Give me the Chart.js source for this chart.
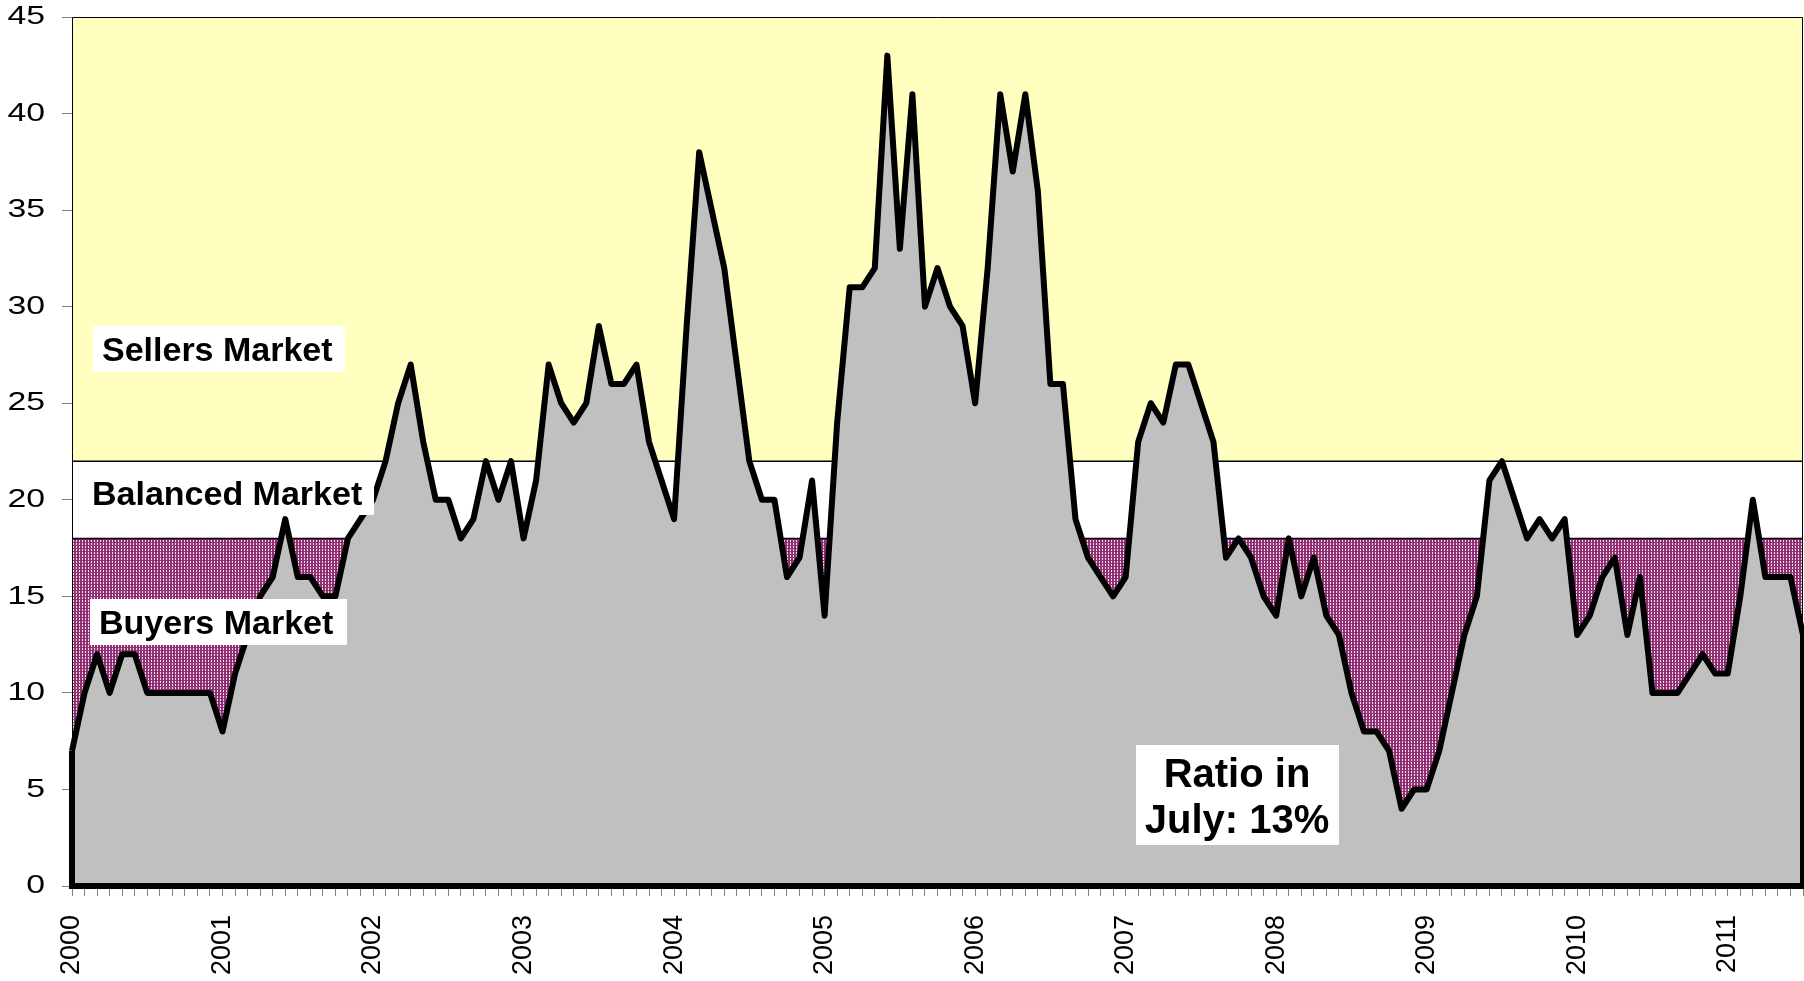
<!DOCTYPE html>
<html>
<head>
<meta charset="utf-8">
<script src="https://cdn.jsdelivr.net/npm/chart.js@4.4.0/dist/chart.umd.min.js"></script>
<style>
  body { margin: 0; background: #fff; }
  canvas { display: block; }
</style>
</head>
<body>
<canvas id="chart" width="1804" height="981"></canvas>
<script>
// Years shown on the axis (one label each January)
const years = ['2000', '2001', '2002', '2003', '2004', '2005', '2006', '2007', '2008', '2009', '2010', '2011'];
const monthNames = ['Jan', 'Feb', 'Mar', 'Apr', 'May', 'Jun', 'Jul', 'Aug', 'Sep', 'Oct', 'Nov', 'Dec'];

// Monthly ratio, Jan 2000 - Jul 2011
const ratio = [
  7, 10, 12, 10, 12, 12, 10, 10, 10, 10, 10, 10,   // 2000
  8, 11, 13, 15, 16, 19, 16, 16, 15, 15, 18, 19,   // 2001
  20, 22, 25, 27, 23, 20, 20, 18, 19, 22, 20, 22,  // 2002
  18, 21, 27, 25, 24, 25, 29, 26, 26, 27, 23, 21,  // 2003
  19, 29, 38, 35, 32, 27, 22, 20, 20, 16, 17, 21,  // 2004
  14, 24, 31, 31, 32, 43, 33, 41, 30, 32, 30, 29,  // 2005
  25, 32, 41, 37, 41, 36, 26, 26, 19, 17, 16, 15,  // 2006
  16, 23, 25, 24, 27, 27, 25, 23, 17, 18, 17, 15,  // 2007
  14, 18, 15, 17, 14, 13, 10, 8, 8, 7, 4, 5,       // 2008
  5, 7, 10, 13, 15, 21, 22, 20, 18, 19, 18, 19,    // 2009
  13, 14, 16, 17, 13, 16, 10, 10, 10, 11, 12, 11,  // 2010
  11, 15, 20, 16, 16, 16, 13                       // 2011
];

const months = ratio.map((v, i) => monthNames[i % 12] + ' ' + years[Math.floor(i / 12)]);

// Market zones (ratio thresholds)
const buyersTop = 18;
const sellersBottom = 22;
const yMax = 45;

const FONT = "'Liberation Sans', Arial, sans-serif";

// dotted purple fill like the Excel pattern
function makePattern(ctx) {
  const c = document.createElement('canvas');
  c.width = 3; c.height = 3;
  const g = c.getContext('2d');
  g.fillStyle = '#912F73';
  g.fillRect(0, 0, 3, 3);
  g.fillStyle = '#F2DDEC';
  g.fillRect(1, 0, 1, 2);
  return ctx.createPattern(c, 'repeat');
}

const ctx = document.getElementById('chart').getContext('2d');
const buyersFill = makePattern(ctx);

// background bands for buyers / balanced / sellers market
const zonesPlugin = {
  id: 'zones',
  beforeDraw(chart) {
    // y tick labels in the original are drawn wide: stretch them sideways
    const ys = chart.scales.y;
    if (ys && !ys._wide) {
      ys._wide = true;
      const orig = ys.drawLabels.bind(ys);
      ys.drawLabels = function (area) {
        const c = this.ctx;
        const ax = this.right - 27;
        c.save();
        c.translate(ax, 0);
        c.scale(1.3, 1);
        c.translate(-ax, 0);
        orig(area);
        c.restore();
      };
    }
  },
  beforeDatasetsDraw(chart) {
    const { ctx, chartArea: a, scales: { y } } = chart;
    const y0 = y.getPixelForValue(0);
    const yb = y.getPixelForValue(buyersTop);
    const ys = y.getPixelForValue(sellersBottom);
    const yt = y.getPixelForValue(yMax);
    ctx.save();
    ctx.fillStyle = '#FFFFC0';
    ctx.fillRect(a.left, yt, a.width, ys - yt);
    ctx.fillStyle = '#FFFFFF';
    ctx.fillRect(a.left, ys, a.width, yb - ys);
    ctx.fillStyle = buyersFill;
    ctx.fillRect(a.left, yb, a.width, y0 - yb);
    ctx.strokeStyle = '#000';
    ctx.lineWidth = 1.5;
    [ys, yb].forEach(p => {
      ctx.beginPath();
      ctx.moveTo(a.left, p);
      ctx.lineTo(a.right, p);
      ctx.stroke();
    });
    ctx.restore();
  },
  afterDatasetsDraw(chart) {
    const { ctx, chartArea: a, scales: { x, y } } = chart;
    ctx.save();
    // thin frame round the plot
    ctx.strokeStyle = '#000';
    ctx.lineWidth = 1;
    ctx.beginPath();
    ctx.moveTo(a.left + 0.5, a.bottom);
    ctx.lineTo(a.left + 0.5, a.top + 0.5);
    ctx.lineTo(a.right - 0.5, a.top + 0.5);
    ctx.lineTo(a.right - 0.5, a.bottom);
    ctx.stroke();
    // closing edges of the area outline
    ctx.lineWidth = 6;
    [0, ratio.length - 1].forEach(i => {
      const px = x.getPixelForValue(i);
      ctx.beginPath();
      ctx.moveTo(px, y.getPixelForValue(ratio[i]));
      ctx.lineTo(px, y.getPixelForValue(0));
      ctx.stroke();
    });
    ctx.restore();
  }
};

// text boxes on the chart
const notes = [
  { lines: ['Sellers Market'], box: [93, 326, 252, 46], size: 34, align: 'left', tx: 102, base: [361] },
  { lines: ['Balanced Market'], box: [84, 471, 290, 44], size: 34, align: 'left', tx: 92, base: [505] },
  { lines: ['Buyers Market'], box: [90, 599, 257, 46], size: 34, align: 'left', tx: 99, base: [634] },
  { lines: ['Ratio in', 'July: 13%'], box: [1136, 745, 203, 100], size: 40, align: 'center', tx: 1237, base: [787, 833] }
];

const notesPlugin = {
  id: 'notes',
  afterDraw(chart) {
    const c = chart.ctx;
    c.save();
    notes.forEach(n => {
      c.fillStyle = '#FFFFFF';
      c.fillRect(n.box[0], n.box[1], n.box[2], n.box[3]);
      c.fillStyle = '#000';
      c.font = 'bold ' + n.size + 'px ' + FONT;
      c.textAlign = n.align;
      c.textBaseline = 'alphabetic';
      n.lines.forEach((t, i) => c.fillText(t, n.tx, n.base[i]));
    });
    c.restore();
  }
};

new Chart(ctx, {
  type: 'line',
  data: {
    labels: months,
    datasets: [{
      label: 'Ratio',
      data: ratio,
      fill: 'origin',
      backgroundColor: '#C0C0C0',
      borderColor: '#000',
      borderWidth: 6,
      borderJoinStyle: 'round',
      pointRadius: 0,
      tension: 0
    }]
  },
  options: {
    responsive: false,
    animation: false,
    devicePixelRatio: 1,
    layout: { padding: { top: 17, right: 1, left: 0, bottom: 0 } },
    plugins: {
      legend: { display: false },
      tooltip: { enabled: false }
    },
    scales: {
      x: {
        type: 'category',
        offset: false,
        grid: { display: true, drawOnChartArea: false, drawTicks: true, tickLength: 10, color: '#808080' },
        border: { display: true, color: '#000', width: 6, z: 1 },
        ticks: {
          autoSkip: false,
          minRotation: 90,
          maxRotation: 90,
          padding: 19,
          color: '#000',
          font: { family: FONT, size: 27 },
          callback: (v, i) => (i % 12 === 0 ? years[i / 12] : '')
        },
        afterFit: s => { s.height = 95; s.paddingLeft = 0; s.paddingRight = 0; }
      },
      y: {
        min: 0,
        max: yMax,
        grid: { display: true, drawOnChartArea: false, tickLength: 10, color: '#808080' },
        border: { display: true, color: '#000', width: 1 },
        ticks: {
          stepSize: 5,
          padding: 17,
          color: '#000',
          font: { family: FONT, size: 26 }
        },
        afterFit: s => { s.width = 72; s.paddingTop = 0; s.paddingBottom = 0; }
      }
    }
  },
  plugins: [zonesPlugin, notesPlugin]
});
</script>
</body>
</html>
